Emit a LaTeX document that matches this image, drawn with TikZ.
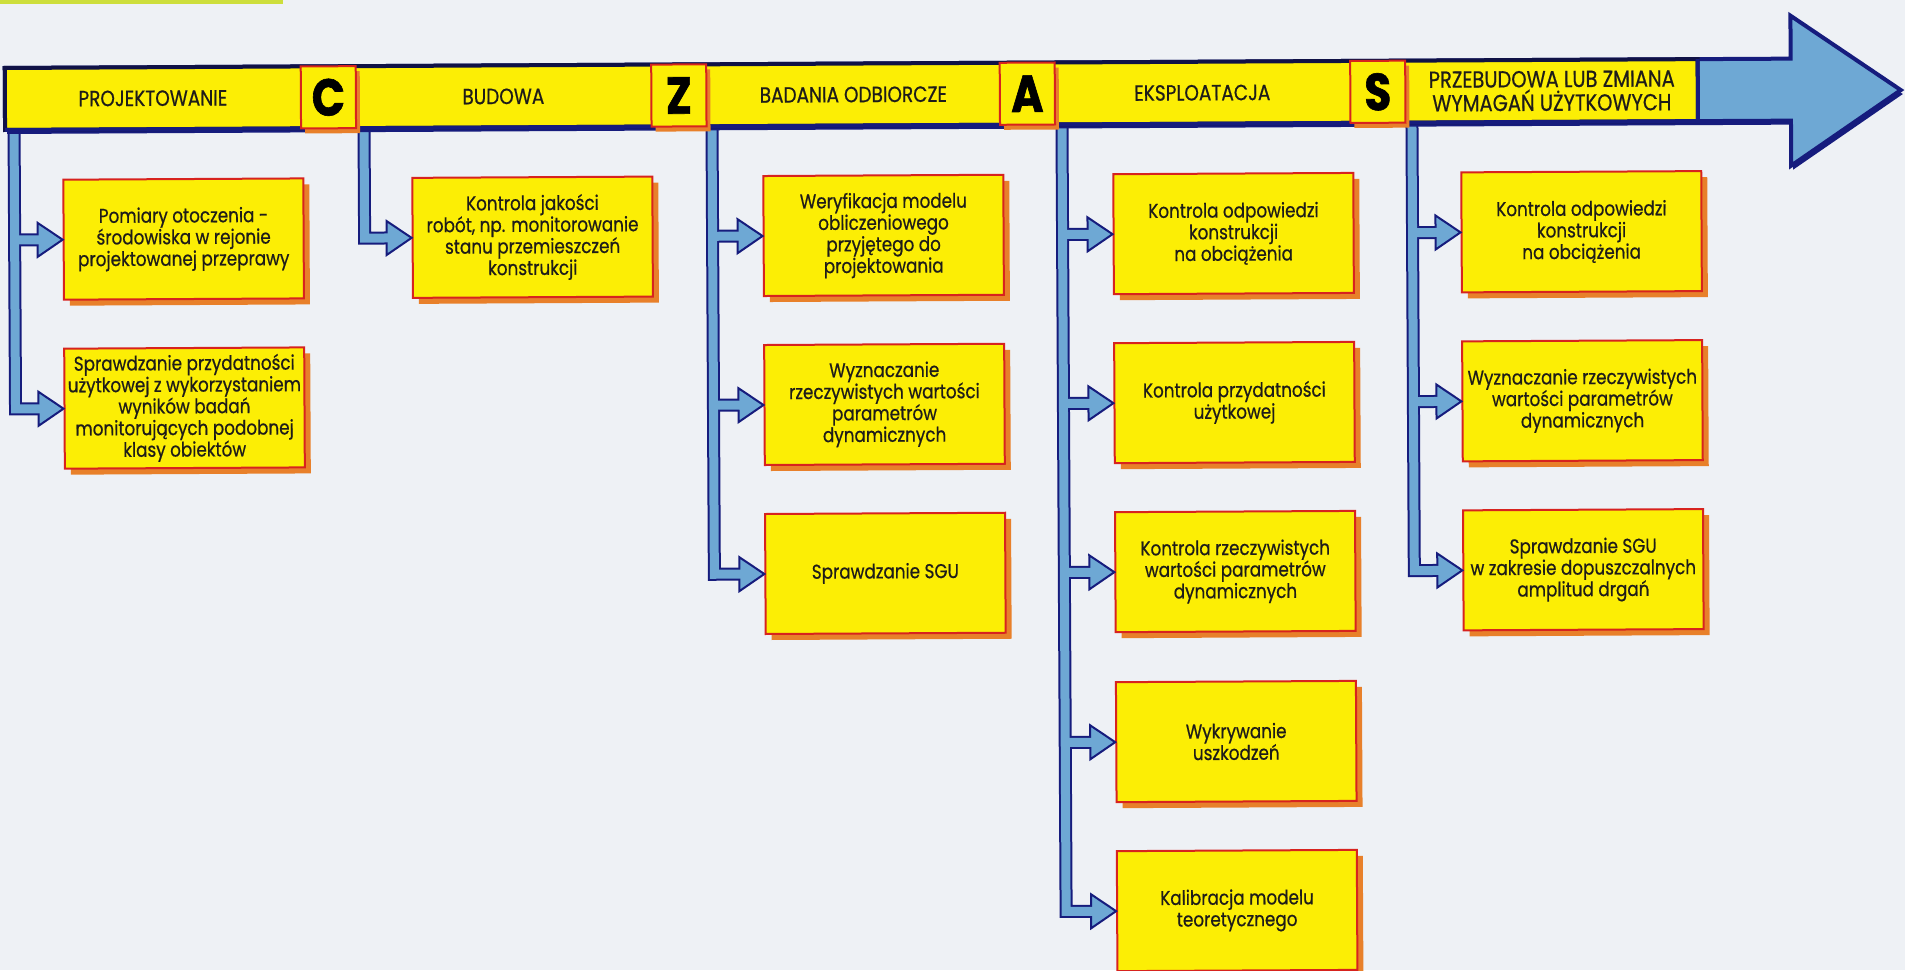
\documentclass[tikz,border=0pt]{standalone}
\usepackage{fontspec}
\setmainfont{Poppins}[FakeStretch=0.84, UprightFeatures={FakeBold=0.6}, BoldFeatures={FakeBold=1.2}]
\usetikzlibrary{calc,shadows}

\definecolor{paperC}{RGB}{238,241,245}
\definecolor{stripC}{RGB}{205,222,60}
\definecolor{yellowF}{RGB}{252,238,5}
\definecolor{redB}{RGB}{215,35,30}
\definecolor{orangeS}{RGB}{232,128,42}
\definecolor{navyB}{RGB}{22,28,125}
\definecolor{navyK}{RGB}{16,18,70}
\definecolor{blueL}{RGB}{110,168,212}
\definecolor{textC}{RGB}{30,28,25}

\tikzset{
  taskbox/.style={rectangle, draw=redB, line width=1pt, fill=yellowF,
    minimum width=120pt, minimum height=60pt, inner sep=1pt, align=center,
    font=\fontsize{10}{10.8}\selectfont, text=textC,
    drop shadow={shadow xshift=3pt, shadow yshift=-3pt, fill=orangeS, opacity=1}},
  letterbox/.style={rectangle, draw=redB, line width=1pt, fill=yellowF,
    minimum width=27.5pt, minimum height=31pt, inner sep=0pt,
    font=\bfseries\fontsize{26}{26}\selectfont, text=black,
    drop shadow={shadow xshift=2pt, shadow yshift=-2.5pt, fill=orangeS, opacity=1}},
  phaselabel/.style={inner sep=0pt, align=center,
    font=\fontsize{11}{10.8}\selectfont, text=textC},
  pipeout/.style={draw=navyB, line width=6.5pt, line join=miter},
  pipein/.style={draw=blueL, line width=4.5pt, line join=miter},
  headstyle/.style={fill=blueL, draw=navyB, line width=1pt, line join=miter},
}

% pipe pieces: T branch from a vertical pipe, L turn at the end of a pipe, arrow head
\newcommand\pipeT[4]{\draw[#1] (#2 |- #3.west) -- ($(#3.west)+(#4,0)$);}
\newcommand\pipeL[4]{\draw[#1] (#2) |- ($(#3.west)+(#4,0)$);}
\newcommand\pipehead[1]{\filldraw[headstyle] ($(#1.west)+(-25,-17)$) -- (#1.west) -- ($(#1.west)+(-25,17)$) -- cycle;}

\begin{document}
\begin{tikzpicture}[x=0.5pt, y=-0.5pt]
\useasboundingbox (0,0) rectangle (1905,970);
\clip (0,0) rectangle (1905,970);
\fill[paperC] (0,0) rectangle (1905,970);
\fill[stripC] (0,0) rectangle (283,4);

\begin{scope}[rotate around={0.3:(0,500)}, transform shape]

% task boxes
\node[taskbox] (b11) at (185,240) {Pomiary otoczenia -\\środowiska w rejonie\\projektowanej przeprawy};
\node[taskbox] (b12) at (185,409) {Sprawdzanie przydatności\\użytkowej z wykorzystaniem\\wyników badań\\monitorujących podobnej\\klasy obiektów};

\node[taskbox] (b21) at (534,240) {Kontrola jakości\\robót, np. monitorowanie\\stanu przemieszczeń\\konstrukcji};

\node[taskbox] (b31) at (885,240) {Weryfikacja modelu\\obliczeniowego\\przyjętego do\\projektowania};
\node[taskbox] (b32) at (885,409) {Wyznaczanie\\rzeczywistych wartości\\parametrów\\dynamicznych};
\node[taskbox] (b33) at (885,578) {Sprawdzanie SGU};

\node[taskbox] (b41) at (1235,240) {Kontrola odpowiedzi\\konstrukcji\\na obciążenia};
\node[taskbox] (b42) at (1235,409) {Kontrola przydatności\\użytkowej};
\node[taskbox] (b43) at (1235,578) {Kontrola rzeczywistych\\wartości parametrów\\dynamicznych};
\node[taskbox] (b44) at (1235,748) {Wykrywanie\\uszkodzeń};
\node[taskbox] (b45) at (1235,917) {Kalibracja modelu\\teoretycznego};

\node[taskbox] (b51) at (1583,240) {Kontrola odpowiedzi\\konstrukcji\\na obciążenia};
\node[taskbox] (b52) at (1583,409) {Wyznaczanie rzeczywistych\\wartości parametrów\\dynamicznych};
\node[taskbox] (b53) at (1583,578) {Sprawdzanie SGU\\w zakresie dopuszczalnych\\amplitud drgań};

% tops of the vertical pipes, hidden under the bar
\coordinate (v1) at (16,120);
\coordinate (v2) at (366,120);
\coordinate (v3) at (714,120);
\coordinate (v4) at (1064,120);
\coordinate (v5) at (1414,120);

% pipes: navy outline
\foreach \vv/\bx in {v1/b12, v2/b21, v3/b33, v4/b45, v5/b53}{\pipeL{pipeout}{\vv}{\bx}{-25}}
\foreach \vv/\bx in {v1/b11, v3/b31, v3/b32, v4/b41, v4/b42, v4/b43, v4/b44, v5/b51, v5/b52}{\pipeT{pipeout}{\vv}{\bx}{-25}}
% arrow heads
\foreach \bx in {b11,b12,b21,b31,b32,b33,b41,b42,b43,b44,b45,b51,b52,b53}{\pipehead{\bx}}
% pipes: light blue core
\foreach \vv/\bx in {v1/b12, v2/b21, v3/b33, v4/b45, v5/b53}{\pipeL{pipein}{\vv}{\bx}{-22}}
\foreach \vv/\bx in {v1/b11, v3/b31, v3/b32, v4/b41, v4/b42, v4/b43, v4/b44, v5/b51, v5/b52}{\pipeT{pipein}{\vv}{\bx}{-22}}

% time axis: big arrow with yellow bar
\fill[navyB, shift={(2,4)}] (7,68) -- (1793,68) -- (1793,25) -- (1903,100) -- (1793,175) -- (1793,130) -- (7,130) -- cycle;
\filldraw[fill=blueL, draw=navyB, line width=2pt, line join=miter] (7,68) -- (1793,68) -- (1793,25) -- (1903,100) -- (1793,175) -- (1793,130) -- (7,130) -- cycle;
\filldraw[fill=yellowF, draw=navyK, line width=2pt] (7,68) rectangle (1700,130);
\draw[navyB, line width=2pt] (7,130) -- (1700,130) -- (1700,68);

% phase names
\node[phaselabel] (ph1) at (155,99) {PROJEKTOWANIE};
\node[phaselabel] (ph2) at (505.5,99) {BUDOWA};
\node[phaselabel] (ph3) at (855.5,99) {BADANIA ODBIORCZE};
\node[phaselabel] (ph4) at (1204.5,99) {EKSPLOATACJA};
\node[phaselabel, font=\fontsize{11.6}{10.8}\selectfont] (ph5) at (1554,99) {PRZEBUDOWA LUB ZMIANA\\WYMAGAŃ UŻYTKOWYCH};

% letters between the phases
\node[letterbox] (lc) at (330.5,99) {C};
\node[letterbox] (lz) at (681,99) {Z};
\node[letterbox] (la) at (1029.5,99) {A};
\node[letterbox] (ls) at (1380,99) {S};
\end{scope}
\end{tikzpicture}
\end{document}
